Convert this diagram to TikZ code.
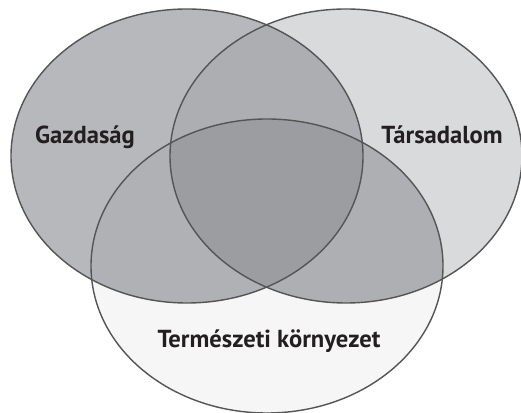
\documentclass[tikz,border=0pt]{standalone}
\usepackage{fontspec}
\setmainfont{PT Sans}
\definecolor{ecocol}{HTML}{B7B8BB}
\definecolor{soccol}{HTML}{D9DADC}
\definecolor{natcol}{HTML}{F6F6F6}
\definecolor{ecosoc}{HTML}{ADAEB1}
\definecolor{econat}{HTML}{B0B1B4}
\definecolor{socnat}{HTML}{AEAFB2}
\definecolor{allthree}{HTML}{9C9DA0}
\definecolor{rimgray}{HTML}{555555}
\definecolor{inkcol}{HTML}{231F20}

\begin{document}
\begin{tikzpicture}[x radius=3.52, y radius=2.94,
    rim/.style={draw=rimgray, line width=0.8pt},
    lbl/.style={font=\bfseries\fontsize{14}{16}\selectfont, text=inkcol, anchor=base}]
    \useasboundingbox (0,0) rectangle (10.42,8.26);

    % Centres of the three sets
    \coordinate (cg) at (3.74,5.14);
    \coordinate (ct) at (6.92,5.14);
    \coordinate (ck) at (5.34,2.94);

    % Single sets
    \fill[soccol] (ct) ellipse [];
    \fill[natcol] (ck) ellipse [];
    \fill[ecocol] (cg) ellipse [];

    % Pairwise overlaps
    \begin{scope}
        \clip (cg) ellipse [];
        \fill[econat] (ck) ellipse [];
        \fill[ecosoc] (ct) ellipse [];
    \end{scope}
    \begin{scope}
        \clip (ct) ellipse [];
        \fill[socnat] (ck) ellipse [];
    \end{scope}

    % Common part
    \begin{scope}
        \clip (cg) ellipse [];
        \clip (ct) ellipse [];
        \fill[allthree] (ck) ellipse [];
    \end{scope}

    % Outlines
    \draw[rim] (cg) ellipse [];
    \draw[rim] (ct) ellipse [];
    \draw[rim] (ck) ellipse [];

    % Labels
    \node[lbl] (gazd) at (1.70,5.38) {Gazdaság};
    \node[lbl] (tars) at (8.84,5.38) {Társadalom};
    \node[lbl] (term) at (5.38,1.31) {Természeti környezet};
\end{tikzpicture}
\end{document}
